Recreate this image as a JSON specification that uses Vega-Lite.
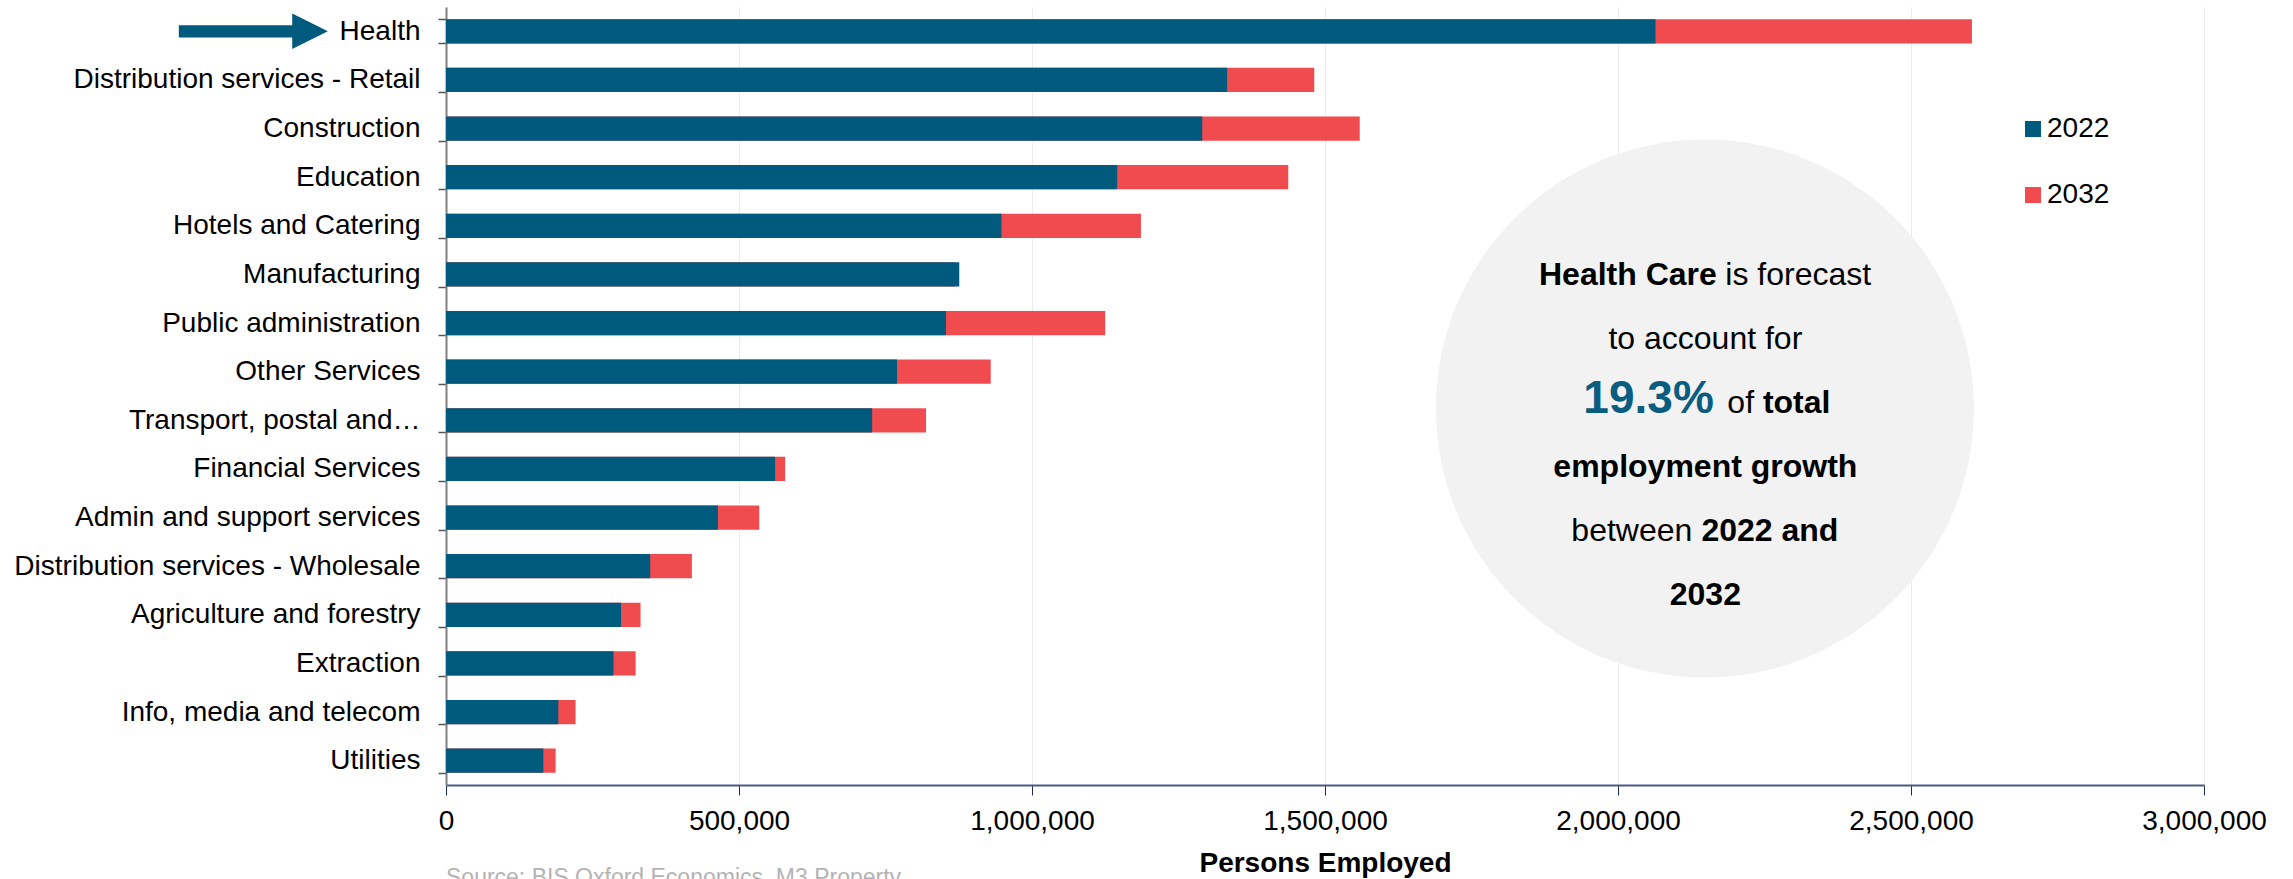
{
  "$schema": "https://vega.github.io/schema/vega-lite/v6.json",
  "width": 1758,
  "height": 778,
  "autosize": {"type": "none"},
  "padding": {"left": 446, "top": 7, "right": 89, "bottom": 94},
  "background": "white",
  "config": {
    "font": "Liberation Sans",
    "view": {"stroke": null},
    "axisX": {
      "grid": true, "gridColor": "#ececec", "gridWidth": 1,
      "domainColor": "#4a5a80", "domainWidth": 2,
      "tickColor": "#1f2b5b", "tickSize": 10, "tickWidth": 1,
      "labelFontSize": 28, "labelColor": "#000000", "labelPadding": 12, "labelFlush": false,
      "titleFontSize": 28, "titleFontWeight": "bold", "titleColor": "#000000", "titlePadding": 14
    },
    "axisY": {
      "grid": false,
      "domainColor": "#808080", "domainWidth": 2,
      "tickColor": "#555555", "tickSize": 8, "tickWidth": 1.5, "tickBand": "extent",
      "labelFontSize": 28, "labelColor": "#000000", "labelPadding": 18, "labelLimit": 600
    }
  },
  "title": {
    "text": "Source: BIS Oxford Economics, M3 Property",
    "orient": "bottom", "anchor": "start", "frame": "group",
    "fontSize": 23, "fontWeight": "normal", "color": "#b3b3b3", "offset": -10
  },
  "datasets": {
    "employment": [
      {"sector": "Health", "year": "2022", "employed": 2064000},
      {"sector": "Health", "year": "2032", "employed": 2604000},
      {"sector": "Distribution services - Retail", "year": "2022", "employed": 1333000},
      {"sector": "Distribution services - Retail", "year": "2032", "employed": 1481700},
      {"sector": "Construction", "year": "2022", "employed": 1290500},
      {"sector": "Construction", "year": "2032", "employed": 1559300},
      {"sector": "Education", "year": "2022", "employed": 1145400},
      {"sector": "Education", "year": "2032", "employed": 1437300},
      {"sector": "Hotels and Catering", "year": "2022", "employed": 947900},
      {"sector": "Hotels and Catering", "year": "2032", "employed": 1185900},
      {"sector": "Manufacturing", "year": "2022", "employed": 875900},
      {"sector": "Manufacturing", "year": "2032", "employed": 868000},
      {"sector": "Public administration", "year": "2022", "employed": 853200},
      {"sector": "Public administration", "year": "2032", "employed": 1124900},
      {"sector": "Other Services", "year": "2022", "employed": 769700},
      {"sector": "Other Services", "year": "2032", "employed": 929600},
      {"sector": "Transport, postal and…", "year": "2022", "employed": 727200},
      {"sector": "Transport, postal and…", "year": "2032", "employed": 819200},
      {"sector": "Financial Services", "year": "2022", "employed": 561600},
      {"sector": "Financial Services", "year": "2032", "employed": 578700},
      {"sector": "Admin and support services", "year": "2022", "employed": 464000},
      {"sector": "Admin and support services", "year": "2032", "employed": 534600},
      {"sector": "Distribution services - Wholesale", "year": "2022", "employed": 348400},
      {"sector": "Distribution services - Wholesale", "year": "2032", "employed": 419600},
      {"sector": "Agriculture and forestry", "year": "2022", "employed": 298700},
      {"sector": "Agriculture and forestry", "year": "2032", "employed": 332000},
      {"sector": "Extraction", "year": "2022", "employed": 285800},
      {"sector": "Extraction", "year": "2032", "employed": 323600},
      {"sector": "Info, media and telecom", "year": "2022", "employed": 191700},
      {"sector": "Info, media and telecom", "year": "2032", "employed": 221100},
      {"sector": "Utilities", "year": "2022", "employed": 166100},
      {"sector": "Utilities", "year": "2032", "employed": 187100}
    ],
    "arrow": [{"sector": "Health", "employed": -328800}],
    "bubble": [{"amount": 2148300, "row": 8.257}],
    "boldLeft": [
      {"piece": "Health Care", "amount": 1865200, "row": 5.717},
      {"piece": "total", "amount": 2247300, "row": 8.346},
      {"piece": "2022 and", "amount": 2142300, "row": 10.974}
    ],
    "regularLeft": [
      {"piece": "is forecast", "amount": 2183200, "row": 5.717},
      {"piece": "of", "amount": 2186600, "row": 8.346},
      {"piece": "between", "amount": 1920400, "row": 10.974}
    ],
    "regularCenter": [
      {"piece": "to account for", "amount": 2149100, "row": 7.031}
    ],
    "boldCenter": [
      {"piece": "employment growth", "amount": 2149100, "row": 9.66},
      {"piece": "2032", "amount": 2149100, "row": 12.288}
    ],
    "bigShare": [
      {"piece": "19.3%", "amount": 1940900, "row": 8.346}
    ]
  },
  "layer": [
    {
      "layer": [
        {
          "data": {"name": "employment"},
          "mark": {"type": "bar"},
          "encoding": {
            "y": {
              "field": "sector", "type": "nominal", "title": null,
              "scale": {
                "domain": ["Health", "Distribution services - Retail", "Construction", "Education", "Hotels and Catering", "Manufacturing", "Public administration", "Other Services", "Transport, postal and…", "Financial Services", "Admin and support services", "Distribution services - Wholesale", "Agriculture and forestry", "Extraction", "Info, media and telecom", "Utilities"],
                "paddingInner": 0.5, "paddingOuter": 0.25
              }
            },
            "x": {
              "field": "employed", "type": "quantitative", "stack": null, "title": "Persons Employed",
              "scale": {"domain": [0, 3000000], "nice": false},
              "axis": {"values": [0, 500000, 1000000, 1500000, 2000000, 2500000, 3000000], "format": ",d"}
            },
            "color": {
              "field": "year", "type": "nominal",
              "scale": {"domain": ["2022", "2032"], "range": ["#005a7d", "#f04c50"]},
              "legend": {
                "title": null, "orient": "none", "legendX": 1573, "legendY": 108,
                "symbolType": "square", "symbolSize": 256, "symbolStrokeWidth": 0,
                "labelFontSize": 28, "labelColor": "#000000", "rowPadding": 38, "labelOffset": 0, "padding": 0
              }
            },
            "order": {"field": "year", "sort": "descending"}
          }
        },
        {
          "data": {"name": "arrow"},
          "mark": {
            "type": "point", "filled": true, "color": "#005a7d", "opacity": 1, "clip": false,
            "shape": "M-1,-0.083L0.522,-0.083L0.522,-0.238L1,0L0.522,0.238L0.522,0.083L-1,0.083Z",
            "size": 22201, "strokeWidth": 0
          },
          "encoding": {
            "y": {"field": "sector", "type": "nominal", "title": null},
            "x": {"field": "employed", "type": "quantitative", "title": "Persons Employed"}
          }
        }
      ]
    },
    {
      "encoding": {
        "x": {"field": "amount", "type": "quantitative", "title": "Persons Employed"},
        "y": {"field": "row", "type": "quantitative", "axis": null, "scale": {"domain": [0, 16], "reverse": true, "nice": false, "zero": false}}
      },
      "layer": [
        {
          "data": {"name": "bubble"},
          "mark": {"type": "point", "shape": "circle", "filled": true, "color": "#f2f2f2", "opacity": 1, "size": 289444, "strokeWidth": 0}
        },
        {
          "data": {"name": "boldLeft"},
          "mark": {"type": "text", "align": "left", "baseline": "alphabetic", "fontSize": 32, "fontWeight": "bold", "color": "#000000"},
          "encoding": {"text": {"field": "piece"}}
        },
        {
          "data": {"name": "regularLeft"},
          "mark": {"type": "text", "align": "left", "baseline": "alphabetic", "fontSize": 32, "fontWeight": "normal", "color": "#000000"},
          "encoding": {"text": {"field": "piece"}}
        },
        {
          "data": {"name": "regularCenter"},
          "mark": {"type": "text", "align": "center", "baseline": "alphabetic", "fontSize": 32, "fontWeight": "normal", "color": "#000000"},
          "encoding": {"text": {"field": "piece"}}
        },
        {
          "data": {"name": "boldCenter"},
          "mark": {"type": "text", "align": "center", "baseline": "alphabetic", "fontSize": 32, "fontWeight": "bold", "color": "#000000"},
          "encoding": {"text": {"field": "piece"}}
        },
        {
          "data": {"name": "bigShare"},
          "mark": {"type": "text", "align": "left", "baseline": "alphabetic", "fontSize": 46, "fontWeight": "bold", "color": "#0b5d80"},
          "encoding": {"text": {"field": "piece"}}
        }
      ]
    }
  ],
  "resolve": {"scale": {"y": "independent"}}
}
